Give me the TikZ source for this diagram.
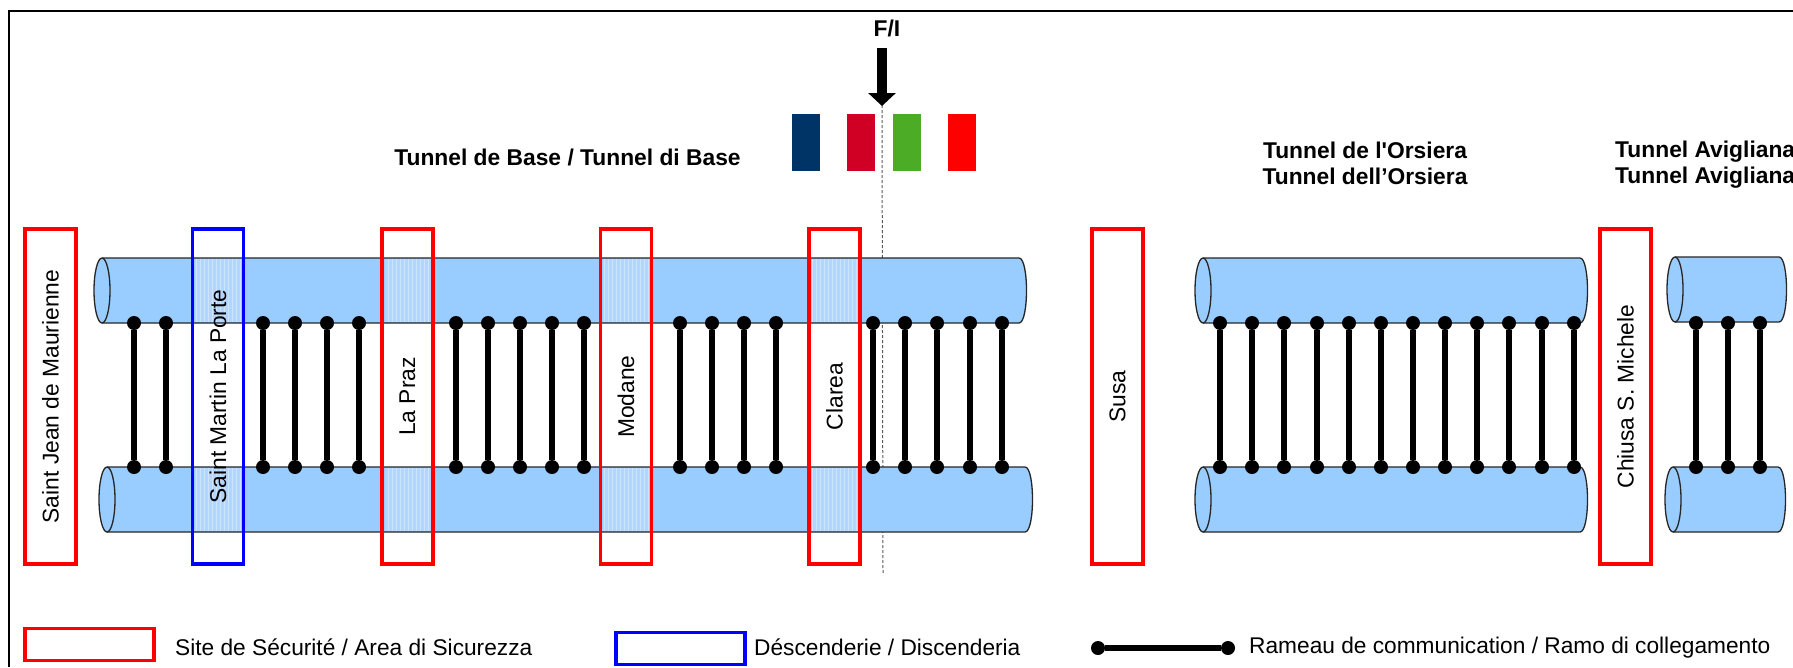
\documentclass[tikz,border=0pt]{standalone}
\usepackage{fontspec}
\usepackage{tikz}
\usepackage{xcolor}
\usetikzlibrary{arrows.meta}
\setmainfont{Liberation Sans}
\definecolor{tubeblue}{RGB}{153, 204, 255}
\definecolor{zoneblue}{RGB}{178, 214, 255}
\definecolor{sitered}{RGB}{255, 0, 0}
\definecolor{descblue}{RGB}{0, 0, 255}
\definecolor{frblue}{RGB}{0, 51, 102}
\definecolor{frred}{RGB}{208, 0, 36}
\definecolor{itgreen}{RGB}{76, 172, 38}

\begin{document}
\begin{tikzpicture}[
    x=1pt, y=-1pt,
    every node/.style={align=center},
    site/.style={rectangle, draw=sitered, line width=3.2pt, minimum width=335pt, minimum height=51pt, inner sep=0pt, rotate=90, font=\fontsize{22.8}{26}\selectfont},
    descente/.style={site, draw=descblue},
    legendbox/.style={rectangle, line width=3.2pt, minimum width=129pt, minimum height=32pt, inner sep=0pt},
    flagband/.style={rectangle, minimum width=28pt, minimum height=57pt, inner sep=0pt},
    tunnelname/.style={font=\bfseries\fontsize{22.8}{26}\selectfont},
    legendtext/.style={font=\fontsize{22.7}{26}\selectfont, anchor=west, inner sep=0pt},
    tube/.style={fill=tubeblue, draw=black!85, line width=1.3pt},
    zone/.style={fill=zoneblue},
    zonegrid/.style={white, opacity=0.35, line width=0.6pt, step=4},
    dot/.style={circle, fill=black, inner sep=0pt, minimum size=14pt},
    rameau/.style={line width=6pt, black},
    border/.style={line width=2.4pt, black},
    arrow/.style={line width=10pt, -{Triangle[length=13pt,width=27pt]}},
    boundary/.style={densely dashed, line width=1pt, black!65}
]
\useasboundingbox (0,0) rectangle (1793,667);

% Frame
\coordinate (frame_bottom) at (9,667);
\coordinate (frame_corner) at (9,11);
\coordinate (frame_right) at (1793,11);
\draw[border] (frame_bottom) -- (frame_corner) -- (frame_right);

% French-Italian border
\coordinate (border_top) at (882,100);
\coordinate (border_bottom) at (883,575);
\draw[boundary] (border_top) -- (border_bottom);

% Tunnel tubes
\foreach \xl/\xr/\ytop/\ybot in {102/1019/258/323, 107/1025/467/532, 1203/1580/258/323, 1203/1580/467/532, 1675/1779/257/322, 1673/1778/467/532} {
    \draw[tube] (\xl,\ytop) -- (\xr,\ytop) .. controls (\xr+10,\ytop) and (\xr+10,\ybot) .. (\xr,\ybot) -- (\xl,\ybot);
    \draw[tube] (\xl,{(\ytop+\ybot)/2}) ellipse [x radius=8pt, y radius=32.5pt];
}

% Lighter part of the tubes inside the sites
\foreach \xc in {218, 407.5, 626, 834.5} {
    \fill[zone] (\xc-23,259) rectangle (\xc+23,322);
    \fill[zone] (\xc-23,468) rectangle (\xc+23,531);
    \draw[zonegrid] (\xc-23,259) grid (\xc+23,322);
    \draw[zonegrid] (\xc-23,468) grid (\xc+23,531);
}

% Connecting galleries
\foreach \xc [count=\i] in {134,166,263,295,327,359,456,488,520,552,584,680,712,744,776,873,905,937,970,1002,
    1220,1252,1284,1317,1349,1381,1413,1445,1477,1509,1542,1574,1696,1728,1760} {
    \node[dot] (top\i) at (\xc,323) {};
    \node[dot] (bot\i) at (\xc,467) {};
    \draw[rameau] (top\i) -- (bot\i);
}

% Sites
\node[site] (st_jean) at (50.5,396.5) {Saint Jean de Maurienne};
\node[descente] (st_martin) at (218,396.5) {Saint Martin La Porte};
\node[site] (la_praz) at (407.5,396.5) {La Praz};
\node[site] (modane) at (626,396.5) {Modane};
\node[site] (clarea) at (834.5,396.5) {Clarea};
\node[site] (susa) at (1117.5,396.5) {Susa};
\node[site] (chiusa) at (1625.5,396.5) {Chiusa S. Michele};

% Border marker and flags
\node[font=\bfseries\fontsize{22.8}{26}\selectfont] (fi_label) at (887,28) {F/I};
\coordinate (fi_start) at (882,48);
\coordinate (fi_tip) at (882,106);
\draw[arrow] (fi_start) -- (fi_tip);
\node[flagband, fill=frblue] (fr_blue) at (805.5,142) {};
\node[flagband, fill=frred] (fr_red) at (861,142) {};
\node[flagband, fill=itgreen] (it_green) at (906.5,142) {};
\node[flagband, fill=sitered] (it_red) at (962,142) {};

% Tunnel names
\node[tunnelname] (base_name) at (567.5,157) {Tunnel de Base / Tunnel di Base};
\node[tunnelname] (orsiera_name) at (1365,163) {Tunnel de l\textquotesingle Orsiera\\Tunnel dell’Orsiera};
\node[tunnelname, anchor=west, inner sep=0pt] (avigliana_name) at (1615,165) {Tunnel Avigliana\\Tunnel Avigliana};

% Legend
\node[legendbox, draw=sitered] (legend_site) at (89.5,644.5) {};
\node[legendtext] (legend_site_text) at (175,647) {Site de Sécurité / Area di Sicurezza};
\node[legendbox, draw=descblue] (legend_desc) at (680.5,648.5) {};
\node[legendtext] (legend_desc_text) at (754,647) {Déscenderie / Discenderia};
\node[dot] (legend_a) at (1098,648) {};
\node[dot] (legend_b) at (1228,648) {};
\draw[rameau] (legend_a) -- (legend_b);
\node[legendtext] (legend_rameau_text) at (1249,648) {Rameau de communication / Ramo di collegamento};

\end{tikzpicture}
\end{document}
